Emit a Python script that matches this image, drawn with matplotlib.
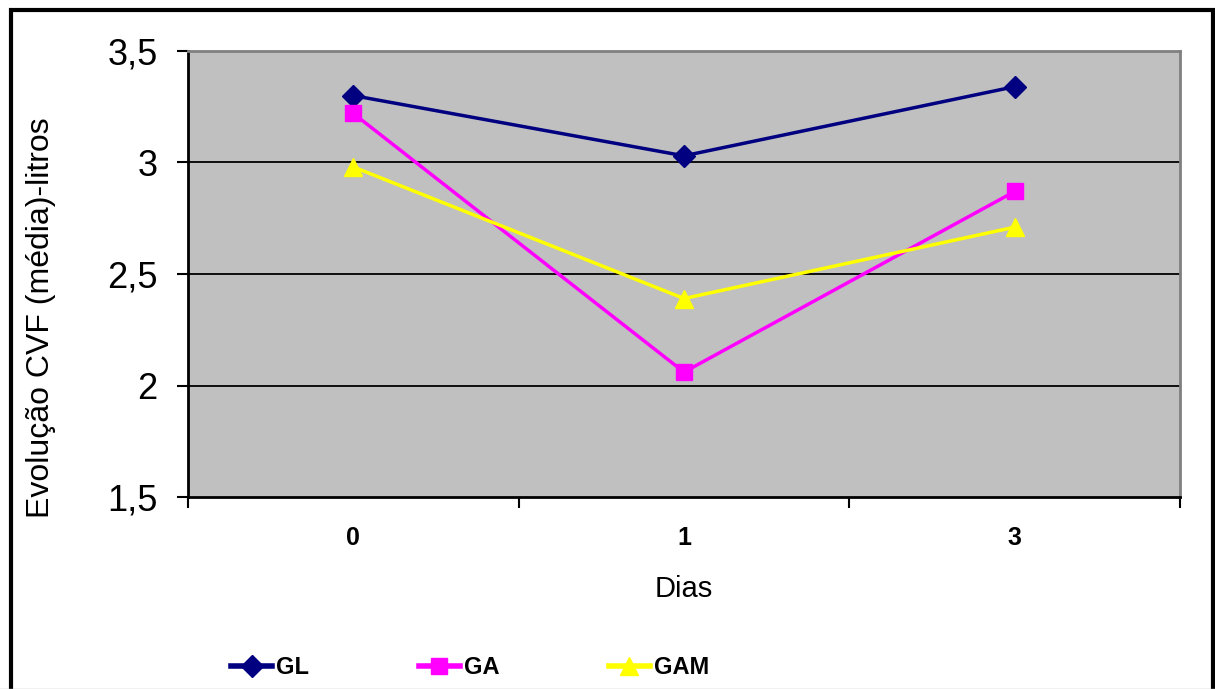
import matplotlib.pyplot as plt
from matplotlib.patches import Rectangle
from matplotlib.lines import Line2D

# Mean FVC (litres) per group over the days of follow-up
dias = ["0", "1", "3"]
gl = [3.30, 3.03, 3.34]
ga = [3.22, 2.06, 2.87]
gam = [2.98, 2.39, 2.71]
y_ticks = [1.5, 2.0, 2.5, 3.0, 3.5]
y_tick_labels = ["1,5", "2", "2,5", "3", "3,5"]

plt.rcParams["font.family"] = ["Liberation Sans", "DejaVu Sans"]

W, H = 1215, 689
fig = plt.figure(figsize=(W / 100, H / 100), dpi=100)
fig.patch.set_facecolor("white")

ax = fig.add_axes([188 / W, 1 - 497 / H, (1180 - 188) / W, (497 - 51) / H])
ax.set_facecolor("#C0C0C0")

x = list(range(len(dias)))
series = [
    ("GL", gl, "#000080", "D", 11),
    ("GA", ga, "#FF00FF", "s", 12),
    ("GAM", gam, "#FFFF00", "^", 13),
]
for name, vals, color, marker, ms in series:
    ax.plot(x, vals, color=color, lw=2.5, marker=marker, markersize=ms,
            markeredgecolor=color, markerfacecolor=color, label=name,
            zorder=3, clip_on=False)

ax.set_xlim(-0.5, len(dias) - 0.5)
ax.set_ylim(1.5, 3.5)

# Horizontal gridlines at the major ticks
ax.set_yticks(y_ticks)
ax.set_yticklabels(y_tick_labels, fontsize=26)
for yv in y_ticks[1:-1]:
    ax.axhline(yv, color="black", lw=1.3, zorder=1)

# Category labels centred between boundary ticks
ax.set_xticks([i - 0.5 for i in range(len(dias) + 1)])
ax.set_xticklabels([])
ax.set_xticks(x, minor=True)
ax.set_xticklabels(dias, minor=True, fontsize=18, fontweight="bold")
ax.tick_params(axis="x", which="minor", length=0, pad=21)
ax.tick_params(axis="x", which="major", direction="out", length=8, width=1.5)
ax.tick_params(axis="y", direction="out", length=8, width=1.5, pad=14)

for side in ("left", "bottom"):
    ax.spines[side].set_color("black")
    ax.spines[side].set_linewidth(2)
for side in ("top", "right"):
    ax.spines[side].set_color("#808080")
    ax.spines[side].set_linewidth(2)

ax.set_xlabel("Dias", fontsize=21, labelpad=18)
fig.text(41 / W, 1 - 318 / H, "Evolução CVF (média)-litros", fontsize=23,
         rotation=90, ha="center", va="center")

handles = [Line2D([], [], color=c, lw=4, marker=m, markersize=ms,
                  markeredgecolor=c, markerfacecolor=c)
           for _, _, c, m, ms in series]
fig.legend(handles, [s[0] for s in series], loc="center left",
           bbox_to_anchor=(231 / W, 1 - 668 / H), ncol=3, frameon=False,
           prop={"weight": "bold", "size": 17},
           handlelength=1.75, handletextpad=0.15, columnspacing=4.65,
           borderpad=0, borderaxespad=0)

# Outer chart frame
fig.add_artist(Rectangle((11 / W, -0.05), (1213 - 11) / W, 1.05 - 10 / H,
                         transform=fig.transFigure, fill=False,
                         edgecolor="black", lw=3, clip_on=False))
fig.add_artist(Line2D([0, 1], [0.5 / H, 0.5 / H], transform=fig.transFigure,
                      color="#BBBBBB", lw=1))

fig.savefig("out.png", dpi=100)
